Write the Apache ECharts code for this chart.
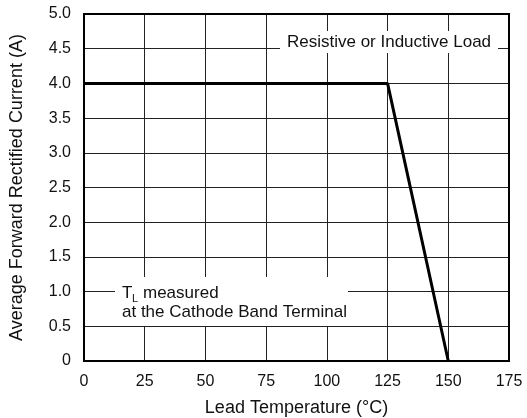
<!DOCTYPE html>
<html>
<head>
<meta charset="utf-8">
<script src="https://cdn.jsdelivr.net/npm/echarts@6/dist/echarts.min.js"></script>
<style>html,body{margin:0;padding:0;background:#fff}#c{width:527px;height:418px}</style>
</head>
<body>
<div id="c"></div>
<script>
const xTicks = [0, 25, 50, 75, 100, 125, 150, 175];
const yTicks = [0, 0.5, 1.0, 1.5, 2.0, 2.5, 3.0, 3.5, 4.0, 4.5, 5.0];
const curveX = [0, 125, 150];
const curveY = [4.0, 4.0, 0];
const xTitle = 'Lead Temperature (°C)';
const yTitle = 'Average Forward Rectified Current (A)';
const noteTop = 'Resistive or Inductive Load';
const noteBottom1 = 'measured';
const noteBottom2 = 'at the Cathode Band Terminal';

const font = 'Liberation Sans, Arial, Helvetica, sans-serif';
const chart = echarts.init(document.getElementById('c'), null, {renderer: 'canvas'});
chart.setOption({
  animation: false,
  backgroundColor: '#fff',
  grid: {left: 84, right: 18, top: 14, bottom: 57, outerBoundsMode: 'none', containLabel: false,
    show: true, borderColor: '#000', borderWidth: 2, z: 3},
  xAxis: {
    type: 'value', min: 0, max: 175, interval: 25,
    name: xTitle, nameLocation: 'middle', nameGap: 38,
    nameTextStyle: {fontFamily: font, fontSize: 18, color: '#111'},
    axisLine: {show: false}, axisTick: {show: false},
    axisLabel: {fontFamily: font, fontSize: 16, color: '#111', margin: 13},
    splitLine: {show: true, lineStyle: {color: '#222', width: 1}}
  },
  yAxis: {
    type: 'value', min: 0, max: 5, interval: 0.5,
    name: yTitle, nameLocation: 'middle', nameGap: 58,
    nameTextStyle: {fontFamily: font, fontSize: 18, color: '#111'},
    axisLine: {show: false}, axisTick: {show: false},
    axisLabel: {fontFamily: font, fontSize: 16, color: '#111', margin: 13,
      formatter: v => v === 0 ? '0' : v.toFixed(1)},
    splitLine: {show: true, lineStyle: {color: '#222', width: 1}}
  },
  series: [{
    type: 'line',
    data: curveX.map((x, i) => [x, curveY[i]]),
    symbol: 'none',
    lineStyle: {color: '#000', width: 3},
    z: 5
  }],
  graphic: [
    {type: 'rect', shape: {x: 280, y: 31, width: 218, height: 22}, style: {fill: '#fff'}, z: 10},
    {type: 'text', x: 389, y: 42, style: {text: noteTop, fontFamily: font, fontSize: 17, fill: '#111', align: 'center', verticalAlign: 'middle'}, z: 11},
    {type: 'rect', shape: {x: 115, y: 277, width: 233, height: 49}, style: {fill: '#fff'}, z: 10},
    {type: 'text', x: 122, y: 293, style: {text: 'T', fontFamily: font, fontSize: 17, fill: '#111', align: 'left', verticalAlign: 'middle'}, z: 11},
    {type: 'text', x: 132, y: 299, style: {text: 'L', fontFamily: font, fontSize: 11, fill: '#111', align: 'left', verticalAlign: 'middle'}, z: 11},
    {type: 'text', x: 143, y: 293, style: {text: noteBottom1, fontFamily: font, fontSize: 17, fill: '#111', align: 'left', verticalAlign: 'middle'}, z: 11},
    {type: 'text', x: 122, y: 312, style: {text: noteBottom2, fontFamily: font, fontSize: 17, fill: '#111', align: 'left', verticalAlign: 'middle'}, z: 11}
  ]
});
</script>
</body>
</html>
